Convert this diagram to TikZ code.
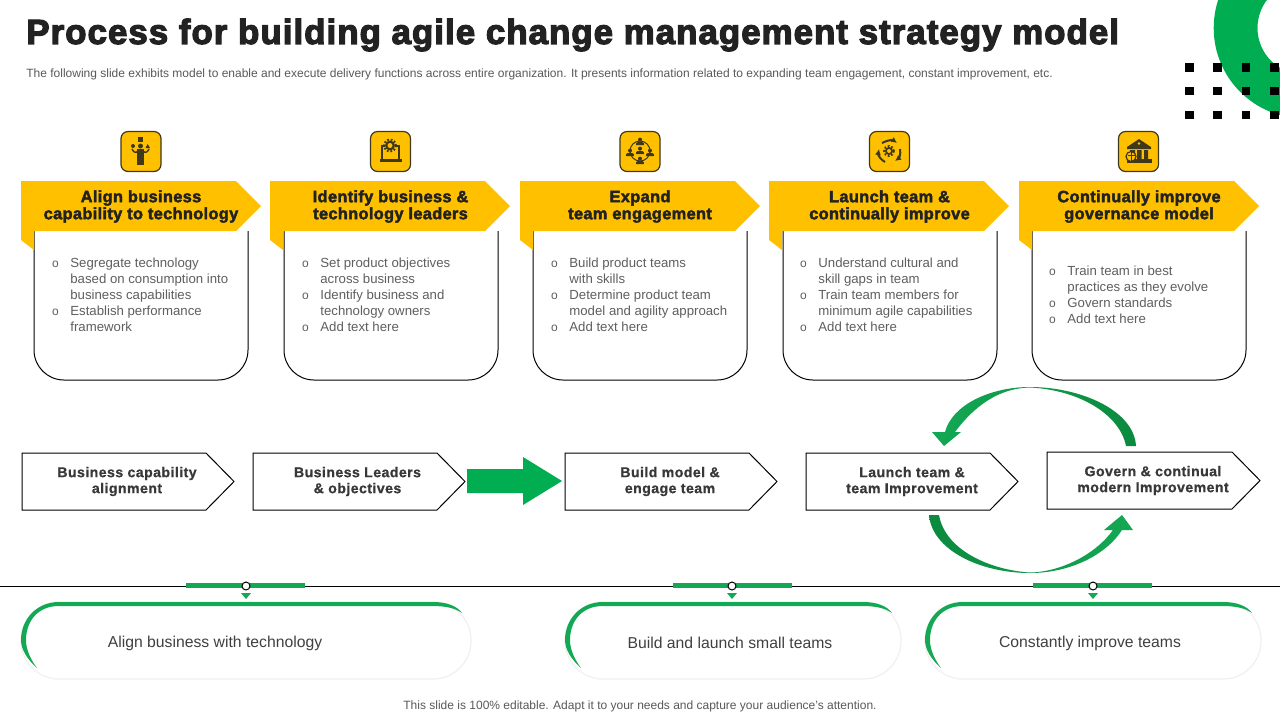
\documentclass[tikz,border=0pt]{standalone}
\usepackage{fontspec}
\usetikzlibrary{arrows.meta}
\setmainfont{Liberation Sans}
\newfontfamily\titlef[FakeBold=3.5,LetterSpace=3.05]{Liberation Sans Bold}
\newfontfamily\headf[FakeBold=2.5,LetterSpace=2]{Liberation Sans Bold}
\newfontfamily\midf[FakeBold=0.8,LetterSpace=3.2]{Liberation Sans Bold}
\definecolor{gr}{HTML}{00AD50}
\definecolor{grd}{HTML}{0B8A3F}
\definecolor{grb}{HTML}{13A854}
\definecolor{yl}{HTML}{FFC000}
\definecolor{ink}{HTML}{222222}
\definecolor{body}{HTML}{5F5F5F}
\definecolor{icn}{HTML}{40381A}
\newcommand{\bu}{\leavevmode\llap{\makebox[9.2pt][l]{\fontsize{6}{8}\selectfont o}}}
\newcommand{\headshape}[1]{%
  \fill[yl] (#1,181) -- ++(215,0) -- ++(25,25) -- ++(-25,25) -- ++(-202,0) -- ++(0,19) -- ++(-13,-10) -- cycle;}
\newcommand{\bodybox}[1]{%
  \draw[boxline,rounded corners=15pt] (#1,231) -- (#1,380) -- (#1+214,380) -- (#1+214,231);}
\newcommand{\iconbox}[2]{\node[iconbox] (#2) at (#1,151.5) {};}
\newcommand{\pent}[6]{% name x0 x1 y text-x text
  \draw[penta] (#2,#4) -- (#3-28,#4) -- (#3,#4+28.5) -- (#3-28,#4+57) -- (#2,#4+57) -- cycle;
  \node[midtext] (#1) at (#5,#4+28.5) {#6};}
\newcommand{\pill}[5]{% name x0 x1 textx text
  \draw[draw=black!6,line width=.6pt,fill=white,rounded corners=19pt] (#2,602) rectangle (#3,679);
  \fill[grb] (#2+38,602) -- (#3-38,602) .. controls (#3-24,602) and (#3-14,606) .. (#3-9,613) .. controls (#3-16,608) and (#3-26,606) .. (#3-38,606) -- (#2+38,606)
     .. controls (#2+16,606) and (#2+5,622) .. (#2+5,640) .. controls (#2+5,650) and (#2+10,660) .. (#2+16,668) .. controls (#2+7,660) and (#2,650) .. (#2,640) .. controls (#2,620) and (#2+15,602) .. (#2+38,602) -- cycle;
  \node[pilltext] (#1) at (#4,643) {#5};}
\newcommand{\marker}[2]{% bar from x
  \fill[grb] (#1,583) rectangle (#1+119,588);
  \draw[black,line width=.5pt,fill=white] (#2,586) circle[radius=4];
  \fill[grb] (#2-5,593) -- (#2+5,593) -- (#2,599) -- cycle;}
\newcommand{\gearic}[3]{% x y r
  \fill[icn] (#1,#2) circle[radius=#3];
  \draw[icn,line width=.9pt,dash pattern=on .9pt off .9pt] (#1,#2) circle[radius=#3+1];
  \fill[yl] (#1,#2) circle[radius=#3*.5];}
\newcommand{\persic}[2]{% x y
  \fill[icn] (#1,#2-2.4) circle[radius=2];
  \fill[icn] (#1-3.8,#2+3.2) -- (#1-3.8,#2+1.2) .. controls (#1-3.8,#2-.6) and (#1+3.8,#2-.6) .. (#1+3.8,#2+1.2) -- (#1+3.8,#2+3.2) -- cycle;}
\tikzset{
  boxline/.style={draw=black,line width=.5pt},
  iconbox/.style={draw=icn,fill=yl,line width=.6pt,rounded corners=3.5pt,minimum width=20pt,minimum height=20pt,inner sep=0pt},
  headtext/.style={align=center,text=ink,font=\headf\fontsize{8.2}{8.5}\selectfont},
  midtext/.style={align=center,text=ink!90,font=\midf\fontsize{7.05}{8}\selectfont},
  bodytext/.style={align=left,anchor=north west,inner sep=0pt,text=body,font=\fontsize{6.6}{8}\selectfont},
  penta/.style={draw=black,line width=.5pt,fill=white},
  pilltext/.style={text=black!75,font=\fontsize{7.87}{10}\selectfont},
  dotm/.style={fill=black}
}
\begin{document}
\begin{tikzpicture}[x=0.5pt,y=-0.5pt]
\useasboundingbox (0,0) rectangle (1280,720);
\fill[white] (0,0) rectangle (1280,720);
% corner ring
\begin{scope}
\clip (0,0) rectangle (1280,720);
\fill[gr,even odd rule] (1304,28) circle[radius=90.3] (1304,28) circle[radius=46.5];
\end{scope}
\foreach \xx in {1189.5,1217.5,1246,1274.5}
  \foreach \yy in {67.5,91,115}
    \fill[dotm] (\xx-4.2,\yy-4.2) rectangle (\xx+4.2,\yy+4.2);
% title
\node[anchor=west,inner sep=0pt,text=ink,font=\titlef\fontsize{17.4}{20}\selectfont] (title) at (26,35) {Process for building agile change management strategy model};
\node[anchor=west,inner sep=0pt,text=black!65,font=\fontsize{6}{8}\selectfont] (sub) at (26,74.5) {The following slide exhibits model to enable and execute delivery functions across entire organization. It presents information related to expanding team engagement, constant improvement, etc.};
% columns
\bodybox{34}\bodybox{284}\bodybox{533}\bodybox{783}\bodybox{1032}
\headshape{21}\headshape{270}\headshape{520}\headshape{769}\headshape{1019}
\node[headtext] (h1) at (141,206.5) {Align business\\capability to technology};
\node[headtext] (h2) at (390.5,206.5) {Identify business \&\\technology leaders};
\node[headtext] (h3) at (640,206.5) {Expand\\team engagement};
\node[headtext] (h4) at (889.5,206.5) {Launch team \&\\continually improve};
\node[headtext] (h5) at (1139,206.5) {Continually improve\\governance model};
\node[bodytext] (b1) at (70,258) {\bu Segregate technology\\based on consumption into\\business capabilities\\\bu Establish performance\\framework};
\node[bodytext] (b2) at (320,258) {\bu Set product objectives\\across business\\\bu Identify business and\\technology owners\\\bu Add text here};
\node[bodytext] (b3) at (569,258) {\bu Build product teams\\with skills\\\bu Determine product team\\model and agility approach\\\bu Add text here};
\node[bodytext] (b4) at (818,258) {\bu Understand cultural and\\skill gaps in team\\\bu Train team members for\\minimum agile capabilities\\\bu Add text here};
\node[bodytext] (b5) at (1067,266) {\bu Train team in best\\practices as they evolve\\\bu Govern standards\\\bu Add text here};
% icons
\iconbox{141}{ic1}\iconbox{390.5}{ic2}\iconbox{640}{ic3}\iconbox{889.5}{ic4}\iconbox{1138.5}{ic5}
% icon 1: person
\fill[icn] (138,137) rectangle (143,141.5);
\fill[icn] (140.5,146) circle[radius=2.5];
\fill[icn] (137,149) rectangle (144,165);
\draw[icn,line width=.7pt] (132,149) .. controls (134,153) and (136,153) .. (138,151);
\draw[icn,line width=.7pt] (149,149) .. controls (147,153) and (145,153) .. (143,151);
\fill[icn] (133,146) circle[radius=2];
\fill[icn] (145.5,148) -- (150,148) -- (147.7,144) -- cycle;
% icon 2: laptop & gear
\draw[icn,line width=.6pt] (382,159) -- (382,146) -- (385,146) (396,146) -- (399,146) -- (399,159);
\fill[icn] (380,159) rectangle (402,161.5);
\gearic{390}{145.5}{5}
% icon 3: network
\draw[icn,line width=.5pt] (640,151) circle[radius=10];
\persic{640}{142}\persic{630}{153}\persic{650}{153}\persic{640}{151}\persic{640}{161}
% icon 4: cycle
\gearic{889}{151}{4}
\draw[icn,line width=1pt,-{Latex[length=3pt,width=3pt]}] (882,143) .. controls (887,140) and (893,140) .. (897,143);
\draw[icn,line width=1pt,-{Latex[length=3pt,width=3pt]}] (900,149) .. controls (901,154) and (899,158) .. (895,161);
\draw[icn,line width=1pt,-{Latex[length=3pt,width=3pt]}] (885,162) .. controls (881,160) and (878,155) .. (879,149);
% icon 5: bank
\fill[icn] (1139,139) -- (1151,147) -- (1151,149) -- (1127,149) -- (1127,147) -- cycle;
\fill[yl] (1139,143.5) circle[radius=1.3];
\fill[icn] (1130,150) rectangle (1135,159) (1137,150) rectangle (1141.5,159) (1144,150) rectangle (1148,159);
\fill[icn] (1127,159) rectangle (1152,163);
\draw[icn,line width=.6pt,fill=yl] (1131,156.5) circle[radius=5];
\draw[icn,line width=.5pt] (1131,152) -- (1131,161) (1127.5,155) -- (1134.5,155);
% process row
\pent{p1}{22}{234}{453}{127}{Business capability\\alignment}
\pent{p2}{253}{465}{453}{357.5}{Business Leaders\\\& objectives}
\pent{p3}{565}{777}{453}{670}{Build model \&\\engage team}
\pent{p4}{806}{1018}{453}{912}{Launch team \&\\team Improvement}
\pent{p5}{1047}{1260}{452}{1153}{Govern \& continual\\modern Improvement}
% green block arrow
\fill[gr] (467,469) -- (523,469) -- (523,457) -- (562,481) -- (523,505) -- (523,493) -- (467,493) -- cycle;
% curved arrows
\shade[left color=grb,right color=grd] (1136,446) .. controls (1134,410) and (1080,387) .. (1030,387) .. controls (990,387) and (952,405) .. (945,432) -- (932,432) -- (944,446) -- (961,432) -- (955,432) .. controls (975,405) and (1000,388) .. (1030,387.5) .. controls (1080,390) and (1120,415) .. (1126,446) -- cycle;
\shade[left color=grd,right color=grb] (929,515) .. controls (932,550) and (980,573) .. (1030,573) .. controls (1070,573) and (1106,555) .. (1122,530) -- (1133,530) -- (1122,515) -- (1104,530) -- (1113,530) .. controls (1095,555) and (1060,572) .. (1030,572.5) .. controls (990,570) and (945,550) .. (939,515) -- cycle;
% divider
\draw[black,line width=.5pt] (0,586) -- (1280,586);
\marker{186}{246}\marker{673}{732}\marker{1033}{1093}
\pill{q1}{21}{471}{215}{Align business with technology}
\pill{q2}{565}{901}{730}{Build and launch small teams}
\pill{q3}{925}{1261}{1090}{Constantly improve teams}
\node[text=black!65,inner sep=0pt,font=\fontsize{6}{8}\selectfont] (foot) at (640,706) {This slide is 100\% editable. Adapt it to your needs and capture your audience’s attention.};
\end{tikzpicture}
\end{document}
